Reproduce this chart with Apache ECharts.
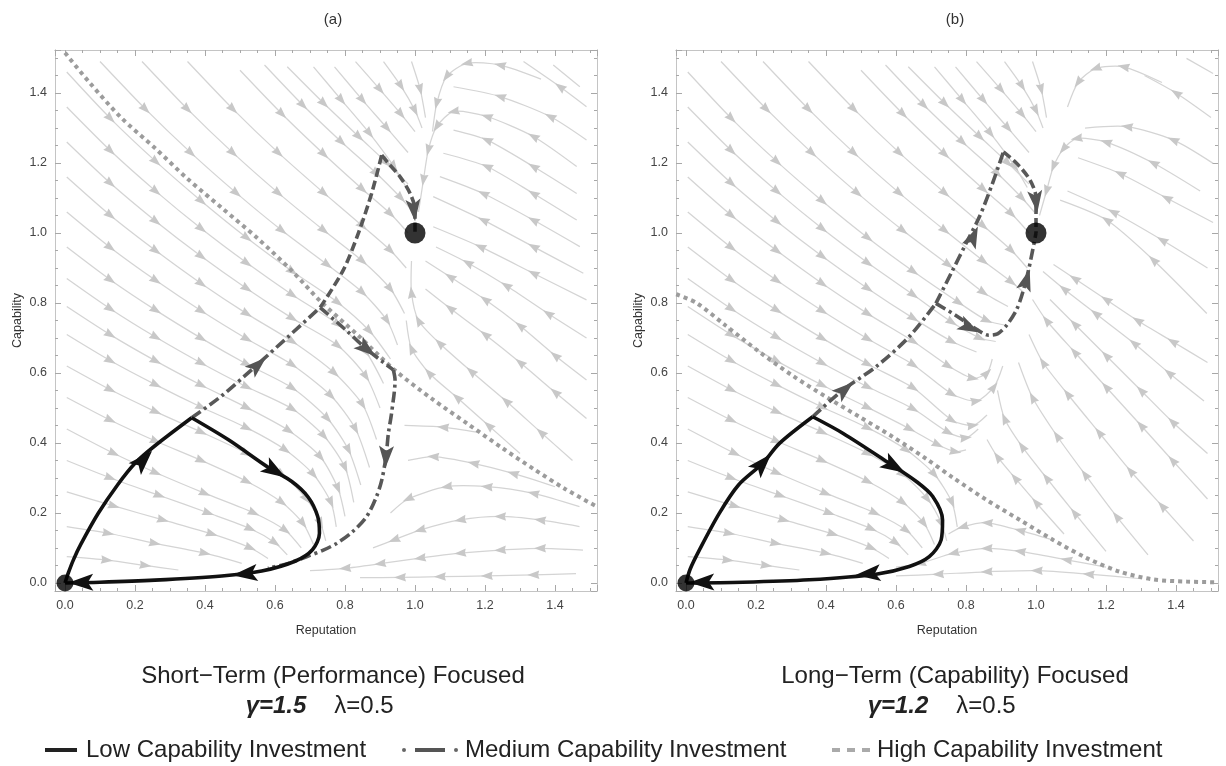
<!DOCTYPE html>
<html><head><meta charset="utf-8">
<script src="https://cdn.jsdelivr.net/npm/echarts@6/dist/echarts.min.js"></script>
<style>html,body{margin:0;padding:0;background:#fff}#c{width:1226px;height:766px}</style>
</head><body><div id="c"></div>
<script>
// ---------- axis ranges & ticks ----------
const XMIN = -0.0286, XMAX = 1.52, YMIN = -0.023, YMAX = 1.523;
const tickLabels = ['0.0','0.2','0.4','0.6','0.8','1.0','1.2','1.4'];

// ---------- panel (a) trajectories ----------
const highA = [[0.0,1.515],[0.07,1.43],[0.16,1.33],[0.26,1.24],[0.35,1.155],[0.45,1.07],[0.55,0.985],[0.65,0.89],[0.73,0.805],[0.84,0.705],[0.94,0.61],[1.05,0.525],[1.15,0.455],[1.25,0.385],[1.34,0.325],[1.43,0.268],[1.52,0.218]];
const lowA_up = [[0,0],[0.01,0.03],[0.024,0.066],[0.045,0.11],[0.095,0.199],[0.15,0.28],[0.2,0.342],[0.257,0.392],[0.362,0.472]];
const lowA_down = [[0.362,0.472],[0.467,0.409],[0.581,0.33],[0.648,0.29],[0.695,0.245],[0.722,0.19],[0.727,0.142],[0.707,0.095],[0.657,0.062],[0.562,0.034],[0.448,0.02],[0.257,0.008],[0.1,0.002],[0,0]];
const medA_rise = [[0.362,0.472],[0.448,0.535],[0.543,0.618],[0.638,0.704],[0.729,0.787]];
const medA_up = [[0.729,0.787],[0.795,0.894],[0.838,0.999],[0.876,1.113],[0.905,1.223]];
const medA_top = [[0.905,1.223],[0.924,1.199],[0.957,1.161],[0.986,1.113],[1.0,1.066],[1.0,1.0]];
const medA_down = [[0.729,0.787],[0.8,0.725],[0.862,0.668],[0.938,0.609]];
const medA_fall = [[0.938,0.609],[0.943,0.58],[0.933,0.485],[0.924,0.428],[0.917,0.36],[0.905,0.294],[0.89,0.247],[0.862,0.19],[0.82,0.145],[0.776,0.113],[0.738,0.094],[0.69,0.075],[0.638,0.056],[0.58,0.042]];
const lowArrowsA = [[0.224,0.351,1,1.05],[0.6,0.32,1,-0.62],[0.514,0.026,-1,-0.11],[0.045,0.001,-1,-0.02]];
const medArrowsA = [[0.551,0.623,1,0.9],[0.862,0.668,1,-0.8],[0.917,0.36,-0.05,-1],[0.997,1.065,0.1,-1]];

// ---------- panel (b) trajectories ----------
const highB = [[-0.028,0.825],[0.03,0.8],[0.114,0.735],[0.21,0.66],[0.305,0.592],[0.4,0.532],[0.495,0.475],[0.59,0.418],[0.686,0.355],[0.764,0.3],[0.859,0.237],[0.954,0.18],[1.049,0.123],[1.145,0.071],[1.24,0.032],[1.335,0.01],[1.43,0.004],[1.52,0.002]];
const lowB_up = [[0,0],[0.012,0.04],[0.038,0.094],[0.095,0.199],[0.15,0.28],[0.219,0.342],[0.267,0.399],[0.362,0.475]];
const lowB_down = [[0.362,0.475],[0.448,0.428],[0.581,0.342],[0.658,0.29],[0.705,0.247],[0.733,0.18],[0.729,0.123],[0.695,0.075],[0.638,0.047],[0.543,0.025],[0.352,0.009],[0.162,0.002],[0,0]];
const medB_rise = [[0.362,0.475],[0.448,0.551],[0.543,0.618],[0.638,0.704],[0.714,0.799]];
const medB_up = [[0.714,0.799],[0.76,0.89],[0.8,0.97],[0.84,1.05],[0.875,1.14],[0.907,1.232]];
const medB_top = [[0.907,1.232],[0.945,1.199],[0.983,1.151],[1.0,1.1],[1.0,1.0]];
const medB_curve = [[0.714,0.799],[0.77,0.765],[0.83,0.725],[0.865,0.708],[0.89,0.712],[0.915,0.735],[0.944,0.78],[0.962,0.83],[0.98,0.9],[1.0,1.0]];
const lowArrowsB = [[0.219,0.342,1,1.1],[0.595,0.333,1,-0.6],[0.52,0.026,-1,-0.1],[0.045,0.002,-1,-0.02]];
const medArrowsB = [[0.454,0.553,1,0.85],[0.81,0.73,1,-0.5],[0.973,0.866,0.3,1],[0.821,0.99,0.45,1],[1.0,1.09,0.12,-1]];

const equilibria = [[0,0],[1,1]];

// ---------- stream lines ----------
const streamsA = [
 [[0.005,1.46],[0.13,1.327],[0.26,1.204],[0.39,1.091],[0.52,0.986],[0.65,0.89],[0.78,0.801],[0.87,0.72],[0.93,0.64]],
 [[0.005,1.36],[0.13,1.235],[0.26,1.119],[0.39,1.012],[0.52,0.914],[0.65,0.823],[0.78,0.739],[0.86,0.66],[0.91,0.57]],
 [[0.005,1.26],[0.13,1.142],[0.26,1.033],[0.39,0.933],[0.52,0.841],[0.65,0.756],[0.78,0.678],[0.86,0.59],[0.9,0.5]],
 [[0.005,1.16],[0.13,1.05],[0.26,0.949],[0.39,0.855],[0.52,0.769],[0.65,0.69],[0.77,0.6],[0.85,0.51],[0.89,0.41]],
 [[0.005,1.06],[0.13,0.958],[0.26,0.864],[0.39,0.777],[0.52,0.697],[0.65,0.623],[0.76,0.535],[0.83,0.44],[0.87,0.33]],
 [[0.005,0.96],[0.13,0.866],[0.26,0.779],[0.39,0.699],[0.52,0.625],[0.65,0.557],[0.75,0.47],[0.81,0.38],[0.845,0.28]],
 [[0.005,0.87],[0.13,0.783],[0.26,0.702],[0.39,0.628],[0.52,0.56],[0.65,0.497],[0.74,0.42],[0.8,0.33],[0.825,0.23]],
 [[0.005,0.79],[0.13,0.709],[0.26,0.634],[0.39,0.565],[0.52,0.501],[0.64,0.435],[0.73,0.36],[0.78,0.27],[0.8,0.19]],
 [[0.005,0.71],[0.13,0.635],[0.26,0.566],[0.39,0.502],[0.52,0.443],[0.63,0.38],[0.71,0.31],[0.76,0.23],[0.775,0.16]],
 [[0.005,0.62],[0.13,0.552],[0.26,0.489],[0.39,0.431],[0.52,0.37],[0.62,0.31],[0.69,0.24],[0.73,0.17],[0.745,0.12]],
 [[0.005,0.53],[0.13,0.465],[0.26,0.405],[0.39,0.35],[0.52,0.29],[0.62,0.23],[0.68,0.17],[0.71,0.11]],
 [[0.005,0.44],[0.14,0.37],[0.26,0.315],[0.4,0.256],[0.54,0.2],[0.63,0.15],[0.675,0.1]],
 [[0.005,0.35],[0.13,0.3],[0.27,0.25],[0.41,0.2],[0.53,0.155],[0.6,0.115],[0.635,0.08]],
 [[0.005,0.26],[0.14,0.22],[0.28,0.18],[0.42,0.14],[0.53,0.1],[0.58,0.07]],
 [[0.005,0.161],[0.124,0.142],[0.257,0.113],[0.4,0.085],[0.505,0.056]],
 [[0.005,0.075],[0.12,0.065],[0.23,0.05],[0.324,0.037]],
 [[0.1,1.49],[0.23,1.354],[0.36,1.229],[0.49,1.114],[0.62,1.007],[0.75,0.909],[0.85,0.83],[0.92,0.75],[0.95,0.68]],
 [[0.22,1.49],[0.35,1.354],[0.48,1.229],[0.61,1.114],[0.74,1.007],[0.85,0.92],[0.93,0.84],[0.97,0.77]],
 [[0.35,1.49],[0.48,1.354],[0.61,1.229],[0.74,1.114],[0.85,1.02],[0.93,0.95],[0.975,0.9]],
 [[0.5,1.465],[0.62,1.34],[0.74,1.225],[0.85,1.125],[0.93,1.055],[0.98,1.0]],
 [[0.57,1.48],[0.68,1.365],[0.79,1.26],[0.89,1.17],[0.96,1.1],[0.995,1.06]],
 [[0.635,1.475],[0.74,1.37],[0.84,1.275],[0.92,1.2],[0.98,1.14]],
 [[0.71,1.475],[0.79,1.38],[0.87,1.285],[0.94,1.19],[0.975,1.13]],
 [[0.77,1.475],[0.85,1.38],[0.92,1.3],[0.98,1.23]],
 [[0.83,1.49],[0.9,1.41],[0.96,1.34],[1.0,1.29]],
 [[0.91,1.49],[0.96,1.42],[1.0,1.35],[1.02,1.3]],
 [[0.99,1.49],[1.015,1.41],[1.03,1.33]],
 [[1.471,1.418],[1.395,1.48]],
 [[1.49,1.361],[1.414,1.418],[1.31,1.49]],
 [[1.36,1.44],[1.243,1.48],[1.148,1.485],[1.09,1.447],[1.062,1.37],[1.05,1.29]],
 [[1.49,1.266],[1.386,1.333],[1.243,1.39],[1.11,1.418]],
 [[1.462,1.19],[1.338,1.276],[1.205,1.333],[1.11,1.347],[1.062,1.304],[1.038,1.237],[1.024,1.151],[1.01,1.06]],
 [[1.462,1.113],[1.338,1.19],[1.205,1.266],[1.11,1.294]],
 [[1.462,1.037],[1.338,1.113],[1.205,1.19],[1.081,1.228]],
 [[1.471,0.961],[1.338,1.037],[1.195,1.113],[1.071,1.161]],
 [[1.481,0.885],[1.338,0.961],[1.195,1.037],[1.052,1.104]],
 [[1.49,0.809],[1.338,0.885],[1.186,0.961],[1.052,1.018]],
 [[1.49,0.7],[1.38,0.77],[1.26,0.85],[1.15,0.915],[1.06,0.96]],
 [[1.49,0.58],[1.4,0.65],[1.3,0.735],[1.2,0.81],[1.1,0.875],[1.03,0.92]],
 [[1.49,0.47],[1.4,0.545],[1.3,0.63],[1.2,0.71],[1.1,0.785],[1.03,0.84]],
 [[1.45,0.35],[1.36,0.43],[1.26,0.52],[1.16,0.605],[1.07,0.685],[1.01,0.75],[0.99,0.83],[0.99,0.92]],
 [[1.3,0.37],[1.21,0.45],[1.12,0.53],[1.04,0.6],[0.99,0.67],[0.975,0.75]],
 [[1.18,0.43],[1.08,0.445],[0.97,0.45]],
 [[1.4,0.275],[1.28,0.313],[1.167,0.342],[1.052,0.361],[0.98,0.35]],
 [[1.47,0.218],[1.338,0.256],[1.205,0.275],[1.09,0.275],[0.98,0.24],[0.93,0.2]],
 [[1.47,0.161],[1.357,0.18],[1.243,0.19],[1.129,0.18],[1.014,0.151],[0.94,0.123],[0.88,0.1]],
 [[1.48,0.094],[1.357,0.099],[1.243,0.094],[1.129,0.085],[1.014,0.071],[0.9,0.055],[0.8,0.042],[0.7,0.035]],
 [[1.46,0.027],[1.338,0.023],[1.205,0.02],[1.071,0.018],[0.957,0.016],[0.843,0.015]]
];

const streamsB = [
 [[0.005,1.46],[0.13,1.327],[0.26,1.204],[0.39,1.091],[0.52,0.986],[0.65,0.89],[0.78,0.801],[0.86,0.75],[0.92,0.735]],
 [[0.005,1.36],[0.13,1.235],[0.26,1.119],[0.39,1.012],[0.52,0.914],[0.65,0.823],[0.76,0.745],[0.84,0.7],[0.885,0.69]],
 [[0.005,1.26],[0.13,1.142],[0.26,1.033],[0.39,0.933],[0.52,0.841],[0.65,0.756],[0.76,0.69],[0.83,0.66]],
 [[0.005,1.16],[0.13,1.05],[0.26,0.949],[0.39,0.855],[0.52,0.769],[0.65,0.69],[0.75,0.62],[0.82,0.585],[0.86,0.6],[0.875,0.64]],
 [[0.005,1.06],[0.13,0.958],[0.26,0.864],[0.39,0.777],[0.52,0.697],[0.65,0.623],[0.76,0.54],[0.83,0.52],[0.88,0.56],[0.905,0.62]],
 [[0.005,0.96],[0.13,0.866],[0.26,0.779],[0.39,0.699],[0.52,0.625],[0.65,0.557],[0.76,0.465],[0.82,0.45],[0.86,0.48]],
 [[0.005,0.87],[0.13,0.783],[0.26,0.702],[0.39,0.628],[0.52,0.56],[0.65,0.497],[0.75,0.43],[0.8,0.415],[0.835,0.44]],
 [[0.005,0.79],[0.13,0.709],[0.26,0.634],[0.39,0.565],[0.52,0.501],[0.64,0.44],[0.72,0.395],[0.77,0.375],[0.8,0.38]],
 [[0.005,0.71],[0.13,0.635],[0.26,0.566],[0.39,0.502],[0.52,0.443],[0.63,0.38],[0.71,0.31],[0.76,0.23],[0.775,0.16]],
 [[0.005,0.62],[0.13,0.552],[0.26,0.489],[0.39,0.431],[0.52,0.37],[0.62,0.31],[0.69,0.24],[0.73,0.17],[0.745,0.12]],
 [[0.005,0.53],[0.13,0.465],[0.26,0.405],[0.39,0.35],[0.52,0.29],[0.62,0.23],[0.68,0.17],[0.71,0.11]],
 [[0.005,0.44],[0.14,0.37],[0.26,0.315],[0.4,0.256],[0.54,0.2],[0.63,0.15],[0.675,0.1]],
 [[0.005,0.35],[0.13,0.3],[0.27,0.25],[0.41,0.2],[0.53,0.155],[0.6,0.115],[0.635,0.08]],
 [[0.005,0.26],[0.14,0.22],[0.28,0.18],[0.42,0.14],[0.53,0.1],[0.58,0.07]],
 [[0.005,0.161],[0.124,0.142],[0.257,0.113],[0.4,0.085],[0.505,0.056]],
 [[0.005,0.075],[0.12,0.065],[0.23,0.05],[0.324,0.037]],
 [[0.1,1.49],[0.23,1.354],[0.36,1.229],[0.49,1.114],[0.62,1.007],[0.75,0.909],[0.85,0.83],[0.92,0.79]],
 [[0.22,1.49],[0.35,1.354],[0.48,1.229],[0.61,1.114],[0.74,1.007],[0.85,0.92],[0.93,0.86],[0.965,0.83]],
 [[0.35,1.49],[0.48,1.354],[0.61,1.229],[0.74,1.114],[0.85,1.02],[0.93,0.95],[0.975,0.9]],
 [[0.5,1.465],[0.62,1.34],[0.74,1.225],[0.85,1.125],[0.93,1.055],[0.98,1.0]],
 [[0.57,1.48],[0.68,1.365],[0.79,1.26],[0.89,1.17],[0.96,1.1],[0.995,1.06]],
 [[0.635,1.475],[0.74,1.37],[0.84,1.275],[0.92,1.2],[0.98,1.14]],
 [[0.71,1.475],[0.79,1.38],[0.87,1.285],[0.94,1.19],[0.975,1.13]],
 [[0.77,1.475],[0.85,1.38],[0.92,1.3],[0.98,1.23]],
 [[0.83,1.49],[0.9,1.41],[0.96,1.34],[1.0,1.29]],
 [[0.91,1.49],[0.96,1.42],[1.0,1.35],[1.02,1.3]],
 [[0.99,1.49],[1.015,1.41],[1.03,1.33]],
 [[1.506,1.456],[1.43,1.499]],
 [[1.5,1.33],[1.4,1.4],[1.31,1.45]],
 [[1.36,1.43],[1.25,1.475],[1.17,1.47],[1.12,1.43],[1.09,1.36]],
 [[1.506,1.199],[1.392,1.266],[1.26,1.304],[1.14,1.3]],
 [[1.469,1.12],[1.335,1.2],[1.2,1.26],[1.116,1.27],[1.078,1.24],[1.05,1.19],[1.03,1.12],[1.01,1.05]],
 [[1.506,1.03],[1.373,1.1],[1.24,1.17],[1.12,1.215]],
 [[1.49,0.9],[1.36,0.98],[1.22,1.06],[1.09,1.12]],
 [[1.488,0.77],[1.335,0.923],[1.202,1.037],[1.069,1.094]],
 [[1.49,0.63],[1.39,0.69],[1.29,0.75],[1.2,0.81],[1.11,0.87],[1.05,0.91]],
 [[1.48,0.52],[1.38,0.6],[1.28,0.685],[1.17,0.77],[1.08,0.84],[1.02,0.89]],
 [[1.49,0.37],[1.39,0.46],[1.3,0.55],[1.2,0.65],[1.11,0.74],[1.04,0.81]],
 [[1.49,0.24],[1.39,0.35],[1.3,0.45],[1.2,0.56],[1.11,0.66],[1.03,0.75],[0.99,0.81]],
 [[1.45,0.12],[1.36,0.22],[1.27,0.32],[1.18,0.43],[1.09,0.54],[1.02,0.63],[0.98,0.71]],
 [[1.32,0.08],[1.23,0.19],[1.14,0.31],[1.06,0.42],[0.99,0.53],[0.95,0.63]],
 [[1.2,0.09],[1.11,0.2],[1.03,0.3],[0.96,0.39],[0.91,0.47],[0.89,0.55]],
 [[1.08,0.14],[1.0,0.23],[0.94,0.3],[0.89,0.36],[0.86,0.41]],
 [[1.04,0.125],[0.954,0.15],[0.86,0.172],[0.79,0.16],[0.75,0.14]],
 [[1.2,0.045],[1.087,0.066],[0.954,0.09],[0.859,0.099],[0.764,0.085],[0.669,0.056],[0.6,0.045]],
 [[1.3,0.012],[1.15,0.025],[1.002,0.035],[0.859,0.032],[0.72,0.025],[0.6,0.02]]
];

// ---------- rendering helpers ----------
const FONT = '"Liberation Sans", Arial, sans-serif';
function arrowPoly(p, ang, len, w, notch){
  const c = Math.cos(ang), s = Math.sin(ang);
  const tip = [p[0] + c*len*0.5, p[1] + s*len*0.5];
  const bx = p[0] - c*len*0.5, by = p[1] - s*len*0.5;
  const l = [bx - s*w/2, by + c*w/2];
  const r = [bx + s*w/2, by - c*w/2];
  const n = [bx + c*len*notch, by + s*len*notch];
  return [tip, l, n, r];
}
function streamRender(lines){
  return function(params, api){
    const pts = lines[api.value(2)].map(p => api.coord(p));
    const children = [{type:'polyline', shape:{points:pts, smooth:0.25},
      style:{stroke:'#d4d4d4', lineWidth:1.25, fill:null}}];
    for (let i = 1; i < pts.length - 1; i++){
      const a = pts[i-1], b = pts[i+1];
      const ang = Math.atan2(b[1]-a[1], b[0]-a[0]);
      children.push({type:'polygon', shape:{points:arrowPoly(pts[i], ang, 12, 8.5, 0.1)},
        style:{fill:'#c8c8c8'}});
    }
    return {type:'group', children};
  };
}
function arrowRender(arr, len, w, color){
  return function(params, api){
    const a = arr[api.value(2)];
    const p = api.coord([a[0], a[1]]);
    const q = api.coord([a[0] + a[2]*0.01, a[1] + a[3]*0.01]);
    const ang = Math.atan2(q[1]-p[1], q[0]-p[0]);
    return {type:'polygon', shape:{points:arrowPoly(p, ang, len, w, 0.22)}, style:{fill:color}};
  };
}

function fmt(v){
  const r = Math.round(v*5)/5;
  if (Math.abs(v - r) > 1e-6) return '';
  const i = Math.round(r*5);
  return tickLabels[i] !== undefined ? tickLabels[i] : '';
}
const frameColor = '#c4c4c4', tickColor = '#a8a8a8';
function mkAxis(dim, gi, pos, major){
  const isX = dim === 'x';
  const showLabel = major && (pos === 'bottom' || pos === 'left');
  const ax = {
    type:'value', gridIndex:gi, position:pos,
    min: isX ? XMIN : YMIN, max: isX ? XMAX : YMAX,
    minInterval: major ? 0.2 : 0.05, maxInterval: major ? 0.2 : 0.05,
    splitNumber: major ? 8 : 31,
    axisLine:{show:true, onZero:false, lineStyle:{color:frameColor, width:1}},
    axisTick:{show:true, inside:true, length: major ? 6 : 3, lineStyle:{color:tickColor, width:1}},
    axisLabel:{show:showLabel, formatter:fmt, color:'#444', fontSize:12.5, fontFamily:FONT, margin:8,
      showMinLabel:true, showMaxLabel:true},
    splitLine:{show:false}
  };
  if (showLabel && isX){ ax.name = 'Reputation'; ax.nameLocation = 'middle'; ax.nameGap = 33;
    ax.nameTextStyle = {color:'#333', fontSize:12.5, fontFamily:FONT}; }
  if (showLabel && !isX){ ax.name = 'Capability'; ax.nameLocation = 'middle'; ax.nameGap = 31;
    ax.nameTextStyle = {color:'#333', fontSize:12.5, fontFamily:FONT}; }
  return ax;
}
const xAxes = [], yAxes = [];
[0,1].forEach(gi => {
  xAxes.push(mkAxis('x', gi, 'bottom', true), mkAxis('x', gi, 'bottom', false), mkAxis('x', gi, 'top', true), mkAxis('x', gi, 'top', false));
  yAxes.push(mkAxis('y', gi, 'left', true), mkAxis('y', gi, 'left', false), mkAxis('y', gi, 'right', true), mkAxis('y', gi, 'right', false));
});

function panelSeries(ai, streams, high, lowUp, lowDown, medSegs, medDash, lowArrows, medArrows){
  const base = {xAxisIndex: ai, yAxisIndex: ai, silent:true, animation:false};
  const s = [];
  s.push(Object.assign({type:'custom', coordinateSystem:'cartesian2d', clip:true, z:1,
    data: streams.map((l, i) => [l[0][0], l[0][1], i]), encode:{x:0, y:1},
    renderItem: streamRender(streams)}, base));
  s.push(Object.assign({type:'line', data:high, smooth:0.3, symbol:'none', z:3,
    lineStyle:{color:'#9c9c9c', width:4, type:[4,4], cap:'butt'}}, base));
  medSegs.forEach((seg, k) => {
    s.push(Object.assign({type:'line', data:seg, smooth:0.3, symbol:'none', z:4,
      lineStyle:{color:'#585858', width:3.6, type: medDash[k], cap:'butt'}}, base));
  });
  [lowUp, lowDown].forEach(seg => {
    s.push(Object.assign({type:'line', data:seg, smooth:0.3, symbol:'none', z:5,
      lineStyle:{color:'#111', width:3.6}}, base));
  });
  s.push(Object.assign({type:'custom', coordinateSystem:'cartesian2d', z:6,
    data: medArrows.map((a, i) => [a[0], a[1], i]), encode:{x:0, y:1},
    renderItem: arrowRender(medArrows, 22, 15, '#555')}, base));
  s.push(Object.assign({type:'custom', coordinateSystem:'cartesian2d', z:7,
    data: lowArrows.map((a, i) => [a[0], a[1], i]), encode:{x:0, y:1},
    renderItem: arrowRender(lowArrows, 25, 17, '#111')}, base));
  s.push(Object.assign({type:'scatter', data:equilibria, symbol:'circle',
    symbolSize:(v) => v[0] === 0 ? 17 : 21, itemStyle:{color:'#000'}, z:8, clip:false}, base));
  return s;
}
const DASHDOT = [11,4,3,4], DASH = [9,4];
const series = [].concat(
  panelSeries(0, streamsA, highA, lowA_up, lowA_down,
    [medA_rise, medA_up, medA_top, medA_down, medA_fall], [DASHDOT, DASH, DASH, DASHDOT, DASHDOT], lowArrowsA, medArrowsA),
  panelSeries(4, streamsB, highB, lowB_up, lowB_down,
    [medB_rise, medB_up, medB_top, medB_curve], [DASHDOT, DASHDOT, DASH, DASHDOT], lowArrowsB, medArrowsB)
);

function txt(x, y, text, size, opts){
  return {type:'text', x, y, silent:true, style:Object.assign({text, fontSize:size, fontFamily:FONT, fill:'#222',
    align:'center', verticalAlign:'middle'}, opts || {})};
}
const graphic = [
  txt(333, 20, '(a)', 15, {fill:'#333'}),
  txt(955, 20, '(b)', 15, {fill:'#333'}),
  txt(333, 676, 'Short\u2212Term (Performance) Focused', 24),
  txt(276, 706, '\u03b3=1.5', 24, {fontWeight:'bold', fontStyle:'italic'}),
  txt(364, 706, '\u03bb=0.5', 24),
  txt(955, 676, 'Long\u2212Term (Capability) Focused', 24),
  txt(898, 706, '\u03b3=1.2', 24, {fontWeight:'bold', fontStyle:'italic'}),
  txt(986, 706, '\u03bb=0.5', 24),
  {type:'line', silent:true, shape:{x1:45, y1:750, x2:77, y2:750}, style:{stroke:'#222', lineWidth:4}},
  txt(86, 750, 'Low Capability Investment', 24, {align:'left'}),
  {type:'circle', silent:true, shape:{cx:404, cy:750, r:2}, style:{fill:'#666'}},
  {type:'line', silent:true, shape:{x1:415, y1:750, x2:445, y2:750}, style:{stroke:'#555', lineWidth:4}},
  {type:'circle', silent:true, shape:{cx:456, cy:750, r:2}, style:{fill:'#666'}},
  txt(465, 750, 'Medium Capability Investment', 24, {align:'left'}),
  {type:'line', silent:true, shape:{x1:832, y1:750, x2:840, y2:750}, style:{stroke:'#aaa', lineWidth:4}},
  {type:'line', silent:true, shape:{x1:847, y1:750, x2:855, y2:750}, style:{stroke:'#aaa', lineWidth:4}},
  {type:'line', silent:true, shape:{x1:862, y1:750, x2:870, y2:750}, style:{stroke:'#aaa', lineWidth:4}},
  txt(877, 750, 'High Capability Investment', 24, {align:'left'})
];

const chart = echarts.init(document.getElementById('c'), null, {renderer:'canvas'});
chart.setOption({
  animation:false,
  backgroundColor:'#fff',
  textStyle:{fontFamily:FONT},
  grid:[{left:55, top:50, width:542, height:541}, {left:676, top:50, width:542, height:541}],
  xAxis:xAxes, yAxis:yAxes,
  series, graphic
});
</script></body></html>
